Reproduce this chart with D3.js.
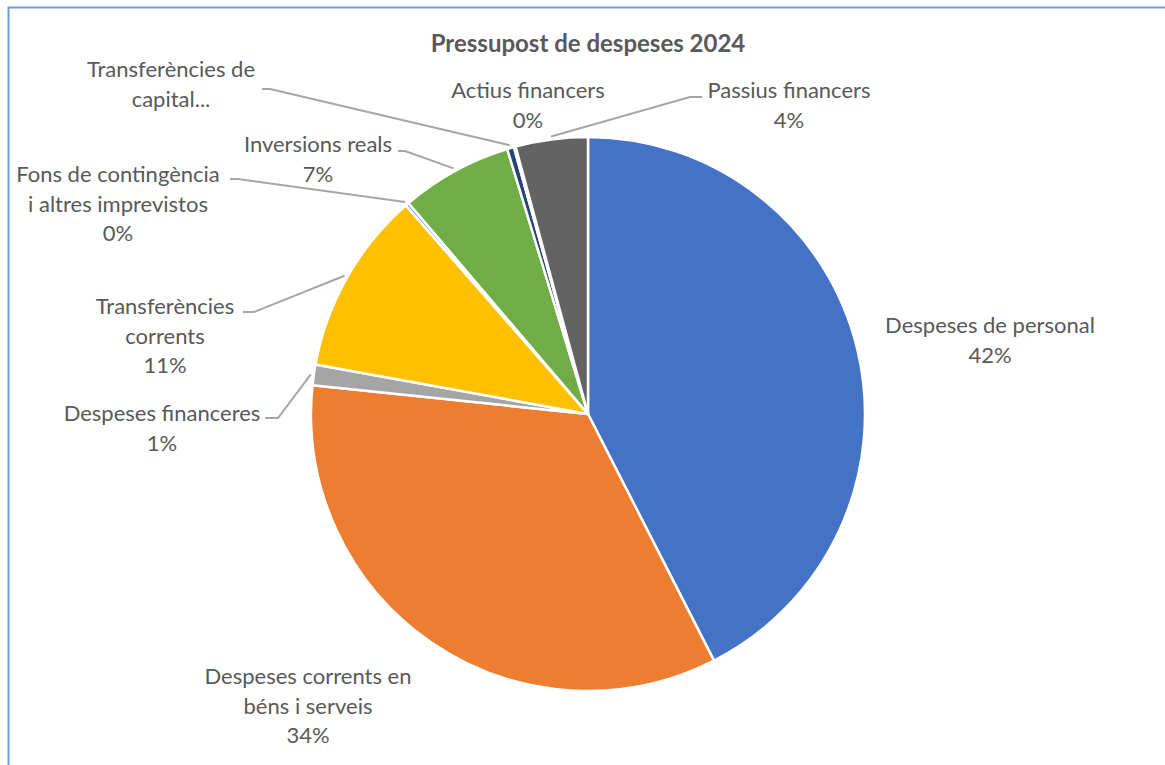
<!DOCTYPE html>
<html>
<head>
<meta charset="utf-8">
<script src="https://cdn.jsdelivr.net/npm/d3@7"></script>
<style>
  html, body { margin: 0; padding: 0; background: #fff; }
  svg { display: block; }
  text { font-family: Lato, "Open Sans", sans-serif; fill: #595959; }
</style>
</head>
<body>
<svg id="chart" width="1165" height="765"></svg>
<script>
// ---- data ----
const title = "Pressupost de despeses 2024";
const categories = [
  "Despeses de personal",
  "Despeses corrents en béns i serveis",
  "Despeses financeres",
  "Transferències corrents",
  "Fons de contingència i altres imprevistos",
  "Inversions reals",
  "Transferències de capital",
  "Actius financers",
  "Passius financers"
];
const values = [42.4, 34.1, 1.2, 10.7, 0.2, 6.5, 0.4, 0.1, 4.2];
const colors = ["#4472C4", "#ED7D31", "#A5A5A5", "#FFC000", "#5B9BD5", "#70AD47", "#264478", "#9E480E", "#636363"];

// ---- layout (label placement, wrapped lines, leader lines) ----
const labelLayout = [
  { lines: ["Despeses de personal"], x: 990, y: 324, pct: true, leader: null },
  { lines: ["Despeses corrents en", "béns i serveis"], x: 308, y: 675, pct: true, leader: null },
  { lines: ["Despeses financeres"], x: 162, y: 412, pct: true, leader: { x0: 265, x1: 278, y: 418 } },
  { lines: ["Transferències", "corrents"], x: 165, y: 305, pct: true, leader: { x0: 243, x1: 254, y: 312 } },
  { lines: ["Fons de contingència", "i altres imprevistos"], x: 118, y: 173, pct: true, leader: { x0: 230, x1: 238, y: 179 } },
  { lines: ["Inversions reals"], x: 318, y: 143, pct: true, leader: { x0: 398, x1: 405, y: 151 } },
  { lines: ["Transferències de", "capital..."], x: 171, y: 68, pct: false, leader: { x0: 262, x1: 270, y: 89 } },
  { lines: ["Actius financers"], x: 528, y: 89, pct: true, leader: null },
  { lines: ["Passius financers"], x: 789, y: 89, pct: true, leader: { x0: 702, x1: 690, y: 97 } }
];
const lineHeight = 29.5;
const cx = 588, cy = 414, radius = 277;

const svg = d3.select("#chart");

// chart border
svg.append("path")
  .attr("d", `M8.5,1000 L8.5,7.5 L2000,7.5`)
  .attr("fill", "none")
  .attr("stroke", "#6A9FD8")
  .attr("stroke-width", 2);

// title
svg.append("text")
  .attr("x", cx).attr("y", 52)
  .attr("text-anchor", "middle")
  .style("font-size", "24px")
  .style("font-weight", "bold")
  .text(title);

const total = d3.sum(values);
const pie = d3.pie().sort(null).value(d => d)(values);
const arc = d3.arc().innerRadius(0).outerRadius(radius);

const g = svg.append("g").attr("transform", `translate(${cx},${cy})`);
g.selectAll("path.slice")
  .data(pie)
  .join("path")
  .attr("class", "slice")
  .attr("d", arc)
  .attr("fill", (d, i) => colors[i])
  .attr("stroke", "#fff")
  .attr("stroke-width", 2.5)
  .attr("stroke-linejoin", "round");

const fmt = d3.format(".0%");

// leader lines
const leaderG = svg.append("g");
pie.forEach((d, i) => {
  const L = labelLayout[i].leader;
  if (!L) return;
  const mid = (d.startAngle + d.endAngle) / 2;
  const r = radius + 3;
  const px = cx + r * Math.sin(mid);
  const py = cy - r * Math.cos(mid);
  leaderG.append("polyline")
    .attr("points", `${L.x0},${L.y} ${L.x1},${L.y} ${px},${py}`)
    .attr("fill", "none")
    .attr("stroke", "#A6A6A6")
    .attr("stroke-width", 2);
});

// labels
const labelG = svg.append("g");
pie.forEach((d, i) => {
  const lay = labelLayout[i];
  const lines = lay.lines.slice();
  if (lay.pct) lines.push(fmt(values[i] / total));
  const t = labelG.append("text")
    .attr("text-anchor", "middle")
    .attr("dominant-baseline", "central")
    .style("font-size", "22px");
  lines.forEach((ln, k) => {
    t.append("tspan").attr("x", lay.x).attr("y", lay.y + k * lineHeight).text(ln);
  });
});
</script>
</body>
</html>
